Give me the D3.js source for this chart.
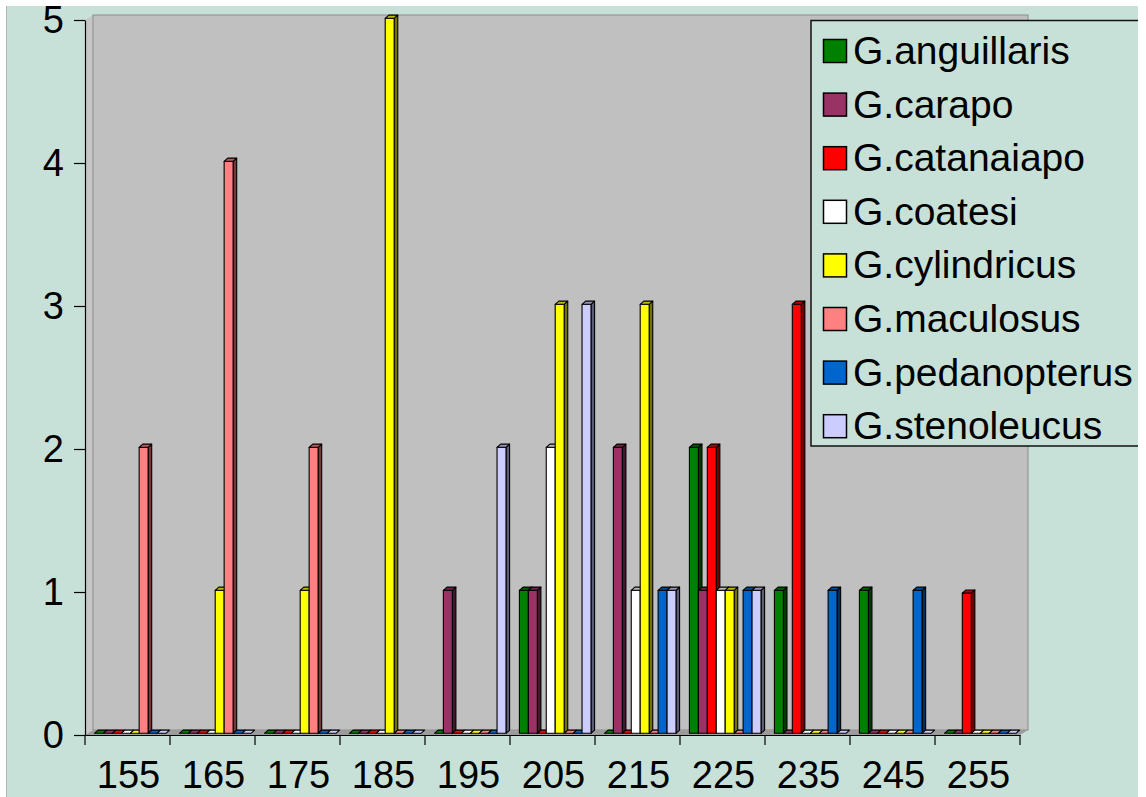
<!DOCTYPE html>
<html>
<head>
<meta charset="utf-8">
<script src="https://cdn.jsdelivr.net/npm/d3@7"></script>
<style>
  html, body { margin: 0; padding: 0; background: #ffffff; }
  svg { display: block; }
  text { font-family: "Liberation Sans", Arial, sans-serif; fill: #000; }
</style>
</head>
<body>
<svg id="chart" width="1146" height="797"></svg>
<script>
// ---- data ----
const categories = ["155", "165", "175", "185", "195", "205", "215", "225", "235", "245", "255"];
const seriesNames = ["G.anguillaris", "G.carapo", "G.catanaiapo", "G.coatesi",
                     "G.cylindricus", "G.maculosus", "G.pedanopterus", "G.stenoleucus"];
const anguillaris  = [0, 0, 0, 0, 0, 1, 0, 2, 1, 1, 0];
const carapo       = [0, 0, 0, 0, 1, 1, 2, 1, 0, 0, 0];
const catanaiapo   = [0, 0, 0, 0, 0, 0, 0, 2, 3, 0, 0.98];
const coatesi      = [0, 0, 0, 0, 0, 2, 1, 1, 0, 0, 0];
const cylindricus  = [0, 1, 1, 5, 0, 3, 3, 1, 0, 0, 0];
const maculosus    = [2, 4, 2, 0, 0, 0, 0, 0, 0, 0, 0];
const pedanopterus = [0, 0, 0, 0, 0, 0, 1, 1, 1, 1, 0];
const stenoleucus  = [0, 0, 0, 0, 2, 3, 1, 1, 0, 0, 0];
const seriesValues = [anguillaris, carapo, catanaiapo, coatesi, cylindricus, maculosus, pedanopterus, stenoleucus];
const seriesColors = ["#008000", "#993366", "#ff0000", "#ffffff", "#ffff00", "#ff8080", "#0066cc", "#ccccff"];
const yTicks = [0, 1, 2, 3, 4, 5];

// ---- layout ----
const svg = d3.select("#chart");
const W = 1146, H = 797;
const teal = "#c7e0d8";
const wallGrey = "#c0c0c0";
const fontAxis = 38, fontLegend = 39;

svg.append("rect").attr("x", 0).attr("y", 0).attr("width", W).attr("height", H).attr("fill", "#fff");
svg.append("rect").attr("x", 7).attr("y", 6).attr("width", 1131).attr("height", H).attr("fill", teal);
svg.append("line").attr("x1", 6.5).attr("x2", 6.5).attr("y1", 6).attr("y2", H)
  .attr("stroke", "#b4b4b4").attr("stroke-width", 1);

const x0 = d3.scaleBand().domain(categories).range([85, 1020]).paddingInner(0).paddingOuter(0);
const x1 = d3.scaleBand().domain(seriesNames).range([0, x0.bandwidth()]).paddingInner(0).paddingOuter(0.75);
const y = d3.scaleLinear().domain([0, 5]).range([735, 20]);

// 3D depth of plot walls
const DX = 8, DY = 5;
const xL = x0.range()[0], xR = x0.range()[1];
const yB = y(0), yT = y(5);

// side wall
svg.append("polygon")
  .attr("points", [[xL, yT], [xL + DX, yT - DY], [xL + DX, yB - DY], [xL, yB]].map(p => p.join(",")).join(" "))
  .attr("fill", "#c6c6c6").attr("stroke", "none");
// back wall
svg.append("rect").attr("x", xL + DX).attr("y", yT - DY).attr("width", xR - xL).attr("height", yB - yT)
  .attr("fill", wallGrey).attr("stroke", "#8c8c8c").attr("stroke-width", 1);
// floor
svg.append("polygon")
  .attr("points", [[xL, yB], [xL + DX, yB - DY], [xR + DX, yB - DY], [xR, yB]].map(p => p.join(",")).join(" "))
  .attr("fill", "#9c9c9c").attr("stroke", "none");

// ---- bars ----
const bdx = 3.6, bdy = 3.2;     // bar depth
const shiftX = 2.7, shiftY = 1.7; // bars sit mid-depth
function shade(c, k) { const r = d3.rgb(c); return d3.rgb(r.r * k, r.g * k, r.b * k).toString(); }
const pts = a => a.map(p => p.join(",")).join(" ");

const barsG = svg.append("g");
categories.forEach((cat, i) => {
  seriesNames.forEach((s, j) => {
    const v = seriesValues[j][i];
    const col = seriesColors[j];
    const w = x1.bandwidth();
    const bx = x0(cat) + x1(s) + shiftX;
    const yb = y(0) - shiftY;
    const yt = y(v) - shiftY;
    const g = barsG.append("g").attr("stroke", "#000").attr("stroke-width", 1.1).attr("stroke-linejoin", "round");
    if (v > 0) {
      g.append("polygon").attr("points", pts([[bx + w, yt], [bx + w + bdx, yt - bdy], [bx + w + bdx, yb - bdy], [bx + w, yb]]))
        .attr("fill", shade(col, 0.45));
      g.append("rect").attr("x", bx).attr("y", yt).attr("width", w).attr("height", yb - yt).attr("fill", col);
    }
    g.append("polygon").attr("points", pts([[bx, yt], [bx + w, yt], [bx + w + bdx, yt - bdy], [bx + bdx, yt - bdy]]))
      .attr("fill", v > 0 ? shade(col, 0.72) : col);
  });
});

// ---- axes ----
const yAxis = d3.axisLeft(y).tickValues(yTicks).tickFormat(d3.format("d")).tickSize(11).tickSizeOuter(0).tickPadding(10);
const gy = svg.append("g").attr("transform", `translate(${xL},0)`).call(yAxis);
gy.selectAll("text").style("font-size", fontAxis + "px").attr("fill", "#000");
gy.selectAll("line, path").attr("stroke", "#000").attr("stroke-width", 1.2);

const xAxis = d3.axisBottom(x0).tickSize(0).tickSizeOuter(0).tickPadding(26);
const gx = svg.append("g").attr("transform", `translate(0,${yB})`).call(xAxis);
gx.selectAll("text").style("font-size", fontAxis + "px").attr("fill", "#000").attr("dx", "1");
gx.selectAll("path").attr("stroke", "#000").attr("stroke-width", 1.2);
// category boundary ticks
const bounds = categories.map(c => x0(c)).concat([xR]);
gx.selectAll("line.bt").data(bounds).enter().append("line").attr("class", "bt")
  .attr("x1", d => d).attr("x2", d => d).attr("y1", 0).attr("y2", 10)
  .attr("stroke", "#000").attr("stroke-width", 1.2);

// ---- legend ----
const lg = svg.append("g");
const lx = 811, ly = 20.5, rowH = 53.6;
lg.append("rect").attr("x", lx).attr("y", ly).attr("width", 340).attr("height", 425.5)
  .attr("fill", teal).attr("stroke", "#111").attr("stroke-width", 1.5);
seriesNames.forEach((s, i) => {
  lg.append("rect").attr("x", 823.5).attr("y", 39.5 + rowH * i).attr("width", 23).attr("height", 23)
    .attr("fill", seriesColors[i]).attr("stroke", "#000").attr("stroke-width", 1.5);
  lg.append("text").attr("x", 853).attr("y", 64 + rowH * i).style("font-size", fontLegend + "px").text(s);
});

// white outer margin (right, top)
svg.append("rect").attr("x", 1138).attr("y", 0).attr("width", W - 1138).attr("height", H).attr("fill", "#fff");
svg.append("rect").attr("x", 0).attr("y", 0).attr("width", W).attr("height", 6).attr("fill", "#fff");
</script>
</body>
</html>
